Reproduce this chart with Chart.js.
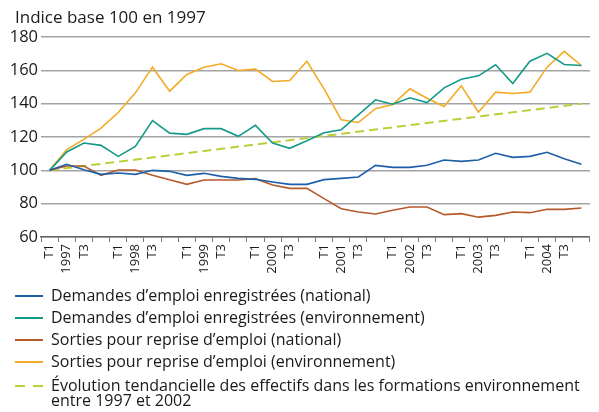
<!DOCTYPE html>
<html>
<head>
<meta charset="utf-8">
<script src="https://cdn.jsdelivr.net/npm/chart.js@4.4.1/dist/chart.umd.min.js"></script>
<style>
  html, body { margin: 0; padding: 0; background: #fff; }
  #wrap { width: 599px; height: 412px; }
</style>
</head>
<body>
<div id="wrap"><canvas id="chart" width="599" height="412"></canvas></div>
<script>
// quarters 1997 T1 .. 2004 T4
var years = ["1997", "1998", "1999", "2000", "2001", "2002", "2003", "2004"];
var quarterMarks = ["T1", null, "T3", ""];   // null = year label goes there

var demandesNational = [100, 103.6, 100.4, 97.6, 98.4, 97.6, 100, 99.4, 97, 98.2, 96.4, 95.2, 94.6, 93, 91.6, 91.6,
    94.4, 95.2, 96, 103, 101.8, 101.8, 103, 106.2, 105.4, 106.2, 110.2, 107.8, 108.4, 110.8, 107, 103.6];
var demandesEnvironnement = [100, 111, 116.4, 115, 108.4, 114.4, 129.8, 122.3, 121.6, 125, 125, 120.4, 127, 116.4, 113.2, 117.7,
    122.6, 124.4, 133.3, 142.3, 139.7, 143.5, 140.7, 149.5, 154.7, 156.7, 163.3, 152.1, 165.5, 170.2, 163.5, 162.9];
var sortiesNational = [100, 102.6, 102.6, 97, 100.2, 100.2, 97, 94.4, 91.6, 94.2, 94.2, 94.2, 95, 91.2, 89.2, 89.2,
    83, 77, 75, 73.8, 76, 78, 78, 73.4, 74, 71.9, 73, 75, 74.6, 76.6, 76.6, 77.4];
var sortiesEnvironnement = [100, 112.4, 118.6, 125.3, 134.7, 146.5, 161.9, 147.5, 157.5, 161.9, 163.9, 159.9, 160.7, 153.3, 153.9, 165.4,
    148.9, 130.3, 128.7, 137, 139.5, 148.9, 143.3, 138.3, 150.7, 134.9, 146.9, 146.1, 146.9, 161.9, 171.4, 162.9];
// trend: only the two end values, straight line between them
var tendanceStart = 100;
var tendanceEnd = 140;

var yTicks = [60, 80, 100, 120, 140, 160, 180];

var seriesLabels = [
    ["Demandes d\u2019emploi enregistrées (national)"],
    ["Demandes d\u2019emploi enregistrées (environnement)"],
    ["Sorties pour reprise d\u2019emploi (national)"],
    ["Sorties pour reprise d\u2019emploi (environnement)"],
    ["Évolution tendancielle des effectifs dans les formations environnement", "entre 1997 et 2002"]
];
var titleText = "Indice base 100 en 1997";

var tickLabels = [];
years.forEach(function (y) {
    quarterMarks.forEach(function (q) { tickLabels.push(q === null ? y : q); });
});

var tendance = tickLabels.map(function () { return null; });
tendance[0] = tendanceStart;
tendance[tendance.length - 1] = tendanceEnd;

var FONT = "'Open Sans', 'Noto Sans', sans-serif";

// title + hand laid legend below the axis
var extras = {
    id: "extras",
    afterDraw: function (chart) {
        var ctx = chart.ctx;
        ctx.save();
        ctx.fillStyle = "#1a1a1a";
        ctx.font = "17px " + FONT;
        ctx.textBaseline = "middle";
        ctx.fillText(titleText, 15, 18);

        ctx.font = "16px " + FONT;
        var rows = [296, 318, 340, 362, 386];
        chart.data.datasets.forEach(function (ds, i) {
            var y = rows[i];
            ctx.strokeStyle = ds.borderColor;
            ctx.lineWidth = 2;
            ctx.setLineDash(ds.borderDash ? [10, 8] : []);
            ctx.beginPath();
            ctx.moveTo(15, y);
            ctx.lineTo(43, y);
            ctx.stroke();
            ctx.setLineDash([]);
            seriesLabels[i].forEach(function (line, k) {
                ctx.fillText(line, 51, y + k * 15, 532);
            });
        });
        ctx.restore();
    }
};

new Chart(document.getElementById("chart"), {
    type: "line",
    data: {
        labels: tickLabels,
        datasets: [
            { label: seriesLabels[0].join(" "), data: demandesNational, borderColor: "#1d5fa9", borderWidth: 1.6 },
            { label: seriesLabels[1].join(" "), data: demandesEnvironnement, borderColor: "#149a89", borderWidth: 1.6 },
            { label: seriesLabels[2].join(" "), data: sortiesNational, borderColor: "#b65a2c", borderWidth: 1.6 },
            { label: seriesLabels[3].join(" "), data: sortiesEnvironnement, borderColor: "#f3aa25", borderWidth: 1.6 },
            { label: seriesLabels[4].join(" "), data: tendance, borderColor: "#bccf37", borderWidth: 2,
              borderDash: [9, 5], spanGaps: true }
        ]
    },
    options: {
        responsive: false,
        animation: false,
        elements: { point: { radius: 0 }, line: { tension: 0, fill: false } },
        layout: { padding: { top: 37, right: 1, bottom: 135, left: 0 } },
        plugins: { legend: { display: false }, title: { display: false }, tooltip: { enabled: false } },
        scales: {
            x: {
                offset: true,
                afterFit: function (s) { s.height = 40; },
                grid: { offset: true, drawOnChartArea: false, drawTicks: true, tickLength: 5, color: "#777", lineWidth: 1 },
                border: { display: true, color: "#666", width: 1.5 },
                ticks: {
                    autoSkip: false, maxRotation: 90, minRotation: 90, padding: 2,
                    color: "#1a1a1a", font: { family: FONT, size: 13 }
                }
            },
            y: {
                min: yTicks[0],
                max: yTicks[yTicks.length - 1],
                afterFit: function (s) { s.width = 41; },
                afterBuildTicks: function (s) { s.ticks = yTicks.map(function (v) { return { value: v }; }); },
                grid: { drawTicks: false, color: "#a3a3a3", lineWidth: 1.5 },
                border: { display: false },
                ticks: { padding: 3, color: "#1a1a1a", font: { family: FONT, size: 16.5 } }
            }
        }
    },
    plugins: [extras]
});
</script>
</body>
</html>
